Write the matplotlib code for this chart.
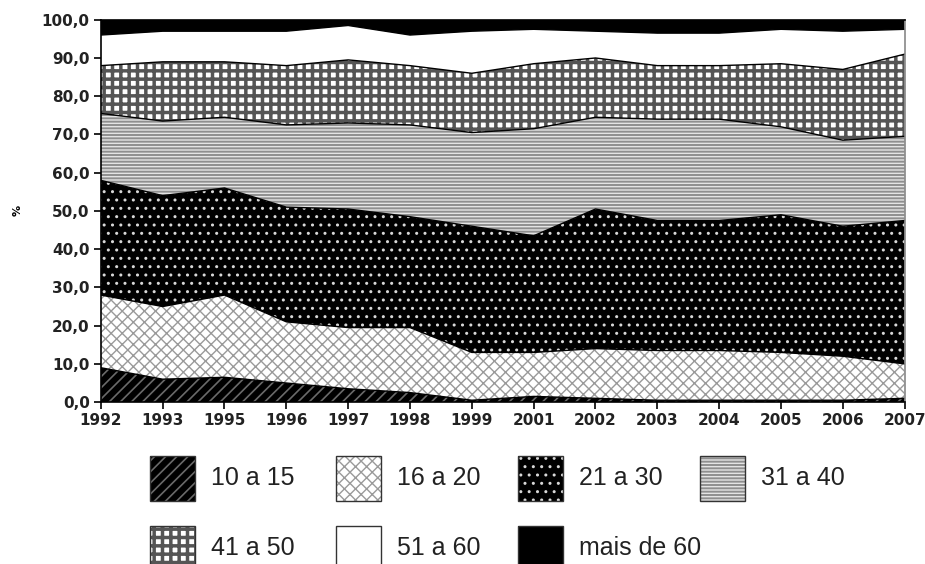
import numpy as np
import matplotlib
matplotlib.use("Agg")
import matplotlib.pyplot as plt
from matplotlib.patches import Rectangle
from matplotlib.ticker import FuncFormatter

years = ["1992", "1993", "1995", "1996", "1997", "1998", "1999",
         "2001", "2002", "2003", "2004", "2005", "2006", "2007"]
labels = ["10 a 15", "16 a 20", "21 a 30", "31 a 40", "41 a 50", "51 a 60", "mais de 60"]

# share (%) of each age group per year
g10_15 = [9.0, 6.0, 6.5, 5.0, 3.5, 2.5, 0.5, 1.5, 1.0, 0.5, 0.5, 0.5, 0.5, 1.0]
g16_20 = [19.0, 19.0, 21.5, 16.0, 16.0, 17.0, 12.5, 11.5, 13.0, 13.0, 13.0, 12.5, 11.5, 9.0]
g21_30 = [30.0, 29.0, 28.0, 30.0, 31.0, 29.0, 33.0, 30.5, 36.5, 34.0, 34.0, 36.0, 34.0, 37.5]
g31_40 = [17.5, 19.5, 18.5, 21.5, 22.5, 24.0, 24.5, 28.0, 24.0, 26.5, 26.5, 23.0, 22.5, 22.0]
g41_50 = [12.5, 15.5, 14.5, 15.5, 16.5, 15.5, 15.5, 17.0, 15.5, 14.0, 14.0, 16.5, 18.5, 21.5]
g51_60 = [8.0, 8.0, 8.0, 9.0, 9.0, 8.0, 11.0, 9.0, 7.0, 8.5, 8.5, 9.0, 10.0, 6.5]
g60plus = [4.0, 3.0, 3.0, 3.0, 1.5, 4.0, 3.0, 2.5, 3.0, 3.5, 3.5, 2.5, 3.0, 2.5]

series = [g10_15, g16_20, g21_30, g31_40, g41_50, g51_60, g60plus]

# (face, hatch, hatch colour, hatch width) per group - grey scale print style
styles = [
    ("black", "///", "#6a6a6a", 1.2),
    ("white", "xxx", "#9a9a9a", 1.0),
    ("black", "..", "#d8d8d8", 1.0),
    ("#e4e4e4", "-----", "#8f8f8f", 1.4),
    ("white", "++", "#555555", 2.5),
    ("white", "", "white", 1.0),
    ("black", "", "black", 1.0),
]

fig = plt.figure(figsize=(9.25, 5.64), dpi=100)
ax = fig.add_axes([0.109, 0.287, 0.869, 0.678])


def style_hatch(artist, hw):
    # per-artist hatch width when available, global value otherwise
    if hasattr(artist, "set_hatch_linewidth"):
        artist.set_hatch_linewidth(hw)


x = np.arange(len(years))
bottom = np.zeros(len(years))
for vals, (fc, h, hc, hw) in zip(series, styles):
    top = bottom + np.array(vals)
    pc = ax.fill_between(x, bottom, top, facecolor=fc, hatch=h, edgecolor=hc, linewidth=0)
    style_hatch(pc, hw)
    ax.plot(x, top, color="black", lw=1.0)
    bottom = top

ax.set_xlim(0, len(years) - 1)
ax.set_ylim(0, 100)
ax.set_xticks(x)
ax.set_xticklabels(years)
ax.set_yticks(np.arange(0, 101, 10))
ax.yaxis.set_major_formatter(FuncFormatter(lambda v, p: f"{v:.1f}".replace(".", ",")))
for lab in ax.get_xticklabels() + ax.get_yticklabels():
    lab.set_fontweight("bold")
    lab.set_fontsize(11)
    lab.set_color("#222222")
ax.tick_params(direction="out", length=5, width=1.2, pad=3)
for s in ax.spines.values():
    s.set_linewidth(1.2)
ax.spines["right"].set_color("#888888")
ax.set_ylabel("%", fontsize=8, fontweight="bold", labelpad=14)

# legend drawn by hand, two rows of boxes
box_x = [150, 336, 518, 700]
row_y = [478, 548]
W, H = 925.0, 564.0
for i, (lab, (fc, h, hc, hw)) in enumerate(zip(labels, styles)):
    cx = box_x[i % 4]
    cy = row_y[i // 4]
    r = Rectangle((cx / W, 1 - (cy + 22.5) / H), 45 / W, 45 / H, transform=fig.transFigure,
                  facecolor=fc, hatch=h, edgecolor=hc, linewidth=0)
    style_hatch(r, hw)
    fig.patches.append(r)
    fig.patches.append(Rectangle((cx / W, 1 - (cy + 22.5) / H), 45 / W, 45 / H,
                                 transform=fig.transFigure, fill=False,
                                 edgecolor="#333333", linewidth=1.0))
    fig.text((cx + 61) / W, 1 - cy / H, lab, fontsize=18, family="Liberation Sans",
             va="center", ha="left", color="#222222")

fig.savefig("out.png", dpi=100)
